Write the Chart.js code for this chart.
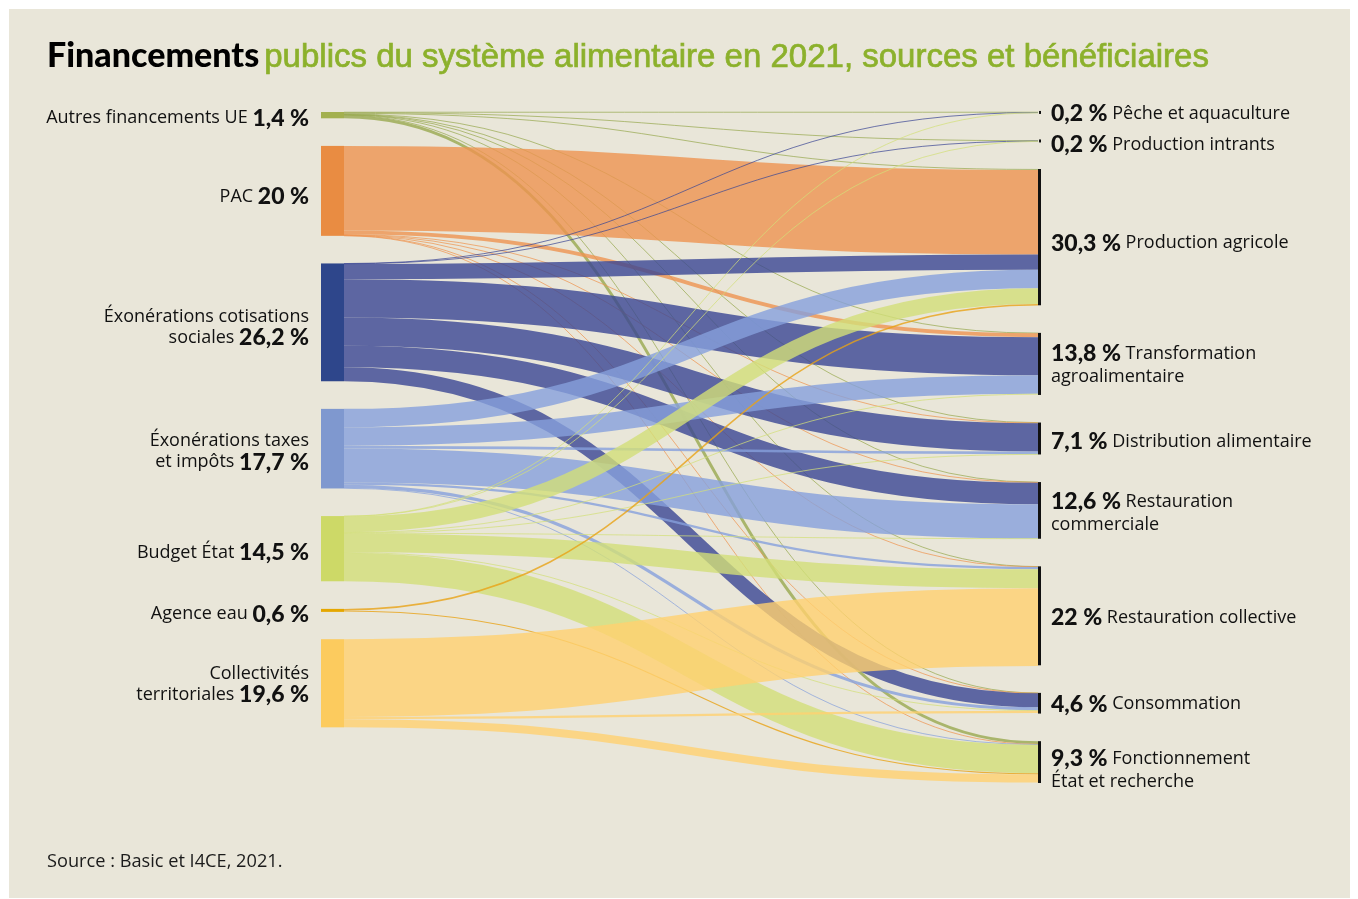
<!DOCTYPE html>
<html lang="fr">
<head>
<meta charset="utf-8">
<script src="https://cdn.jsdelivr.net/npm/chart.js@4.4.1/dist/chart.umd.min.js"></script>
<style>
  html, body { margin: 0; padding: 0; background: #fff; }
  #panel { position: absolute; left: 9px; top: 9px; width: 1341px; height: 889px; background: #e9e6d9; }
  #chart { position: absolute; left: 0; top: 0; }
  #title { position: absolute; left: 47px; top: 33px; white-space: nowrap; }
  #title b { font: 900 34px Lato, sans-serif; color: #000; }
  #title span { font: 33px "Liberation Sans Narrow", sans-serif; color: #8cb12c; -webkit-text-stroke: 0.7px #8cb12c; margin-left: 1px; }
  #source { position: absolute; left: 47px; top: 848px; font: 18.2px "Open Sans", sans-serif; color: #1b1b1b; }
</style>
</head>
<body>
<div id="panel"></div>
<canvas id="chart" width="1358" height="899"></canvas>
<div id="title"><b>Financements</b> <span>publics du système alimentaire en 2021, sources et bénéficiaires</span></div>
<div id="source">Source : Basic et I4CE, 2021.</div>
<script>
// sources (left column), shares in %
const sources = ['Autres financements UE', 'PAC', 'Éxonérations cotisations\nsociales', 'Éxonérations taxes\net impôts', 'Budget État', 'Agence eau', 'Collectivités\nterritoriales'];
const sourceShares = [1.4, 20, 26.2, 17.7, 14.5, 0.6, 19.6];

// beneficiaries (right column)
const targets = ['Pêche et aquaculture', 'Production intrants', 'Production agricole', 'Transformation\nagroalimentaire', 'Distribution alimentaire', 'Restauration\ncommerciale', 'Restauration collective', 'Consommation', 'Fonctionnement\nÉtat et recherche'];
const targetShares = [0.2, 0.2, 30.3, 13.8, 7.1, 12.6, 22, 4.6, 9.3];

// flows from each source to each target, in target order (% of total)
const flowsUE     = [0.1, 0.1, 0.2, 0.1, 0.05, 0.05, 0.1, 0.05, 0.65];
const flowsPAC    = [0, 0, 18.8, 0.85, 0.1, 0.1, 0.05, 0.05, 0.05];
const flowsCotis  = [0.05, 0.05, 3.4, 8.5, 6.3, 4.8, 0, 3.1, 0];
const flowsTaxes  = [0, 0, 4.1, 4.1, 0.6, 7.6, 0.5, 0.7, 0.1];
const flowsBudget = [0.05, 0.05, 3.5, 0.15, 0.05, 0.05, 4.2, 0.1, 6.35];
const flowsEau    = [0, 0, 0.35, 0, 0, 0, 0, 0, 0.25];
const flowsColl   = [0, 0, 0, 0, 0, 0, 17.3, 0.5, 1.8];
const flows = [flowsUE, flowsPAC, flowsCotis, flowsTaxes, flowsBudget, flowsEau, flowsColl];

const nodeColors = ['#a3b04f', '#e98c42', '#2e468b', '#7f98cf', '#cdd967', '#e5a700', '#fccb5e'];
const linkColors = ['#98a94f', '#ee9450', '#3a4694', '#86a0dc', '#d2df78', '#e8a315', '#ffd16f'];

// label nudges (px) to sit like the original
const srcNudge = [3, 6, 5, 3, 4, 4, 1];
const tgtNudge = [1, 4, 6, 1, 3, 3, 2, 1, 8];

const GAP = 6.14;           // space between nodes, in % units
const NODE_W = 23;
const BAR_W = 3;
const REG = '18px "Open Sans", sans-serif';
const BOLD = '900 23px Lato, sans-serif';

function pct(v) { return String(v).replace('.', ',') + ' %'; }

function stackTops(values) {
  const tops = []; let acc = 0;
  values.forEach(v => { tops.push(acc); acc += v + GAP; });
  return tops;
}

const sankeyPlugin = {
  id: 'sankey',
  afterDraw(chart) {
    const { ctx, scales: { x, y } } = chart;
    const k = Math.abs(y.getPixelForValue(1) - y.getPixelForValue(0));
    const srcTop = stackTops(sourceShares);
    const tgtTop = stackTops(targetShares);
    const xL = x.getPixelForValue(0), xR = x.getPixelForValue(1);
    const x0 = xL + NODE_W, x1 = xR - BAR_W;
    const xm = (x0 + x1) / 2;

    ctx.save();
    // links
    const tgtOff = targetShares.map(() => 0);
    flows.forEach((row, i) => {
      let sOff = 0;
      row.forEach((v, j) => {
        if (v > 0) {
          const ys = y.getPixelForValue(srcTop[i] + sOff + v / 2);
          const yt = y.getPixelForValue(tgtTop[j] + tgtOff[j] + v / 2);
          ctx.beginPath();
          ctx.moveTo(x0, ys);
          ctx.bezierCurveTo(xm, ys, xm, yt, x1, yt);
          ctx.lineWidth = Math.max(v * k, 0.9);
          ctx.strokeStyle = linkColors[i];
          ctx.globalAlpha = 0.8;
          ctx.stroke();
        }
        sOff += v;
        tgtOff[j] += v;
      });
    });
    ctx.globalAlpha = 1;

    // source nodes
    sourceShares.forEach((v, i) => {
      const t = y.getPixelForValue(srcTop[i]);
      const b = y.getPixelForValue(srcTop[i] + v);
      ctx.fillStyle = nodeColors[i];
      ctx.fillRect(xL, t, NODE_W, Math.max(b - t, 3));
    });
    // target bars
    targetShares.forEach((v, j) => {
      const t = y.getPixelForValue(tgtTop[j]);
      const b = y.getPixelForValue(tgtTop[j] + v);
      ctx.fillStyle = '#111';
      if (b - t < 3) ctx.fillRect(xR - BAR_W + 1, (t + b) / 2 - 1.5, 2, 3);
      else ctx.fillRect(xR - BAR_W, t, BAR_W, b - t);
    });

    // labels
    ctx.fillStyle = '#111';
    ctx.textBaseline = 'middle';
    const LH = 21;
    sources.forEach((name, i) => {
      const lines = name.split('\n');
      const c = y.getPixelForValue(srcTop[i] + sourceShares[i] / 2) + srcNudge[i];
      const yStart = c - (lines.length - 1) * LH / 2;
      const xr = xL - 12;
      ctx.textAlign = 'right';
      lines.forEach((ln, n) => {
        const yy = yStart + n * LH;
        if (n === lines.length - 1) {
          ctx.font = BOLD;
          const p = pct(sourceShares[i]);
          ctx.fillText(p, xr, yy);
          const w = ctx.measureText(p).width;
          ctx.font = REG;
          ctx.fillText(ln + ' ', xr - w, yy);
        } else {
          ctx.font = REG;
          ctx.fillText(ln, xr, yy);
        }
      });
    });
    const RLH = 23;
    targets.forEach((name, j) => {
      const lines = name.split('\n');
      const c = y.getPixelForValue(tgtTop[j] + targetShares[j] / 2) + tgtNudge[j];
      const yStart = c - (lines.length - 1) * RLH / 2;
      const xl = xR + 10;
      ctx.textAlign = 'left';
      lines.forEach((ln, n) => {
        const yy = yStart + n * RLH;
        if (n === 0) {
          ctx.font = BOLD;
          const p = pct(targetShares[j]);
          ctx.fillText(p, xl, yy);
          const w = ctx.measureText(p).width;
          ctx.font = REG;
          ctx.fillText(' ' + ln, xl + w, yy);
        } else {
          ctx.font = REG;
          ctx.fillText(ln, xl, yy);
        }
      });
    });
    ctx.restore();
  }
};

const yMax = targetShares.reduce((a, b) => a + b, 0) + GAP * (targetShares.length - 1);

new Chart(document.getElementById('chart'), {
  type: 'scatter',
  data: { datasets: [{ data: [] }] },
  options: {
    responsive: false,
    animation: false,
    devicePixelRatio: 1,
    layout: { padding: { left: 321, right: 317, top: 112, bottom: 116 } },
    plugins: { legend: { display: false }, tooltip: { enabled: false } },
    scales: {
      x: { type: 'linear', min: 0, max: 1, display: false },
      y: { type: 'linear', min: 0, max: yMax, reverse: true, display: false }
    }
  },
  plugins: [sankeyPlugin]
});
</script>
</body>
</html>
